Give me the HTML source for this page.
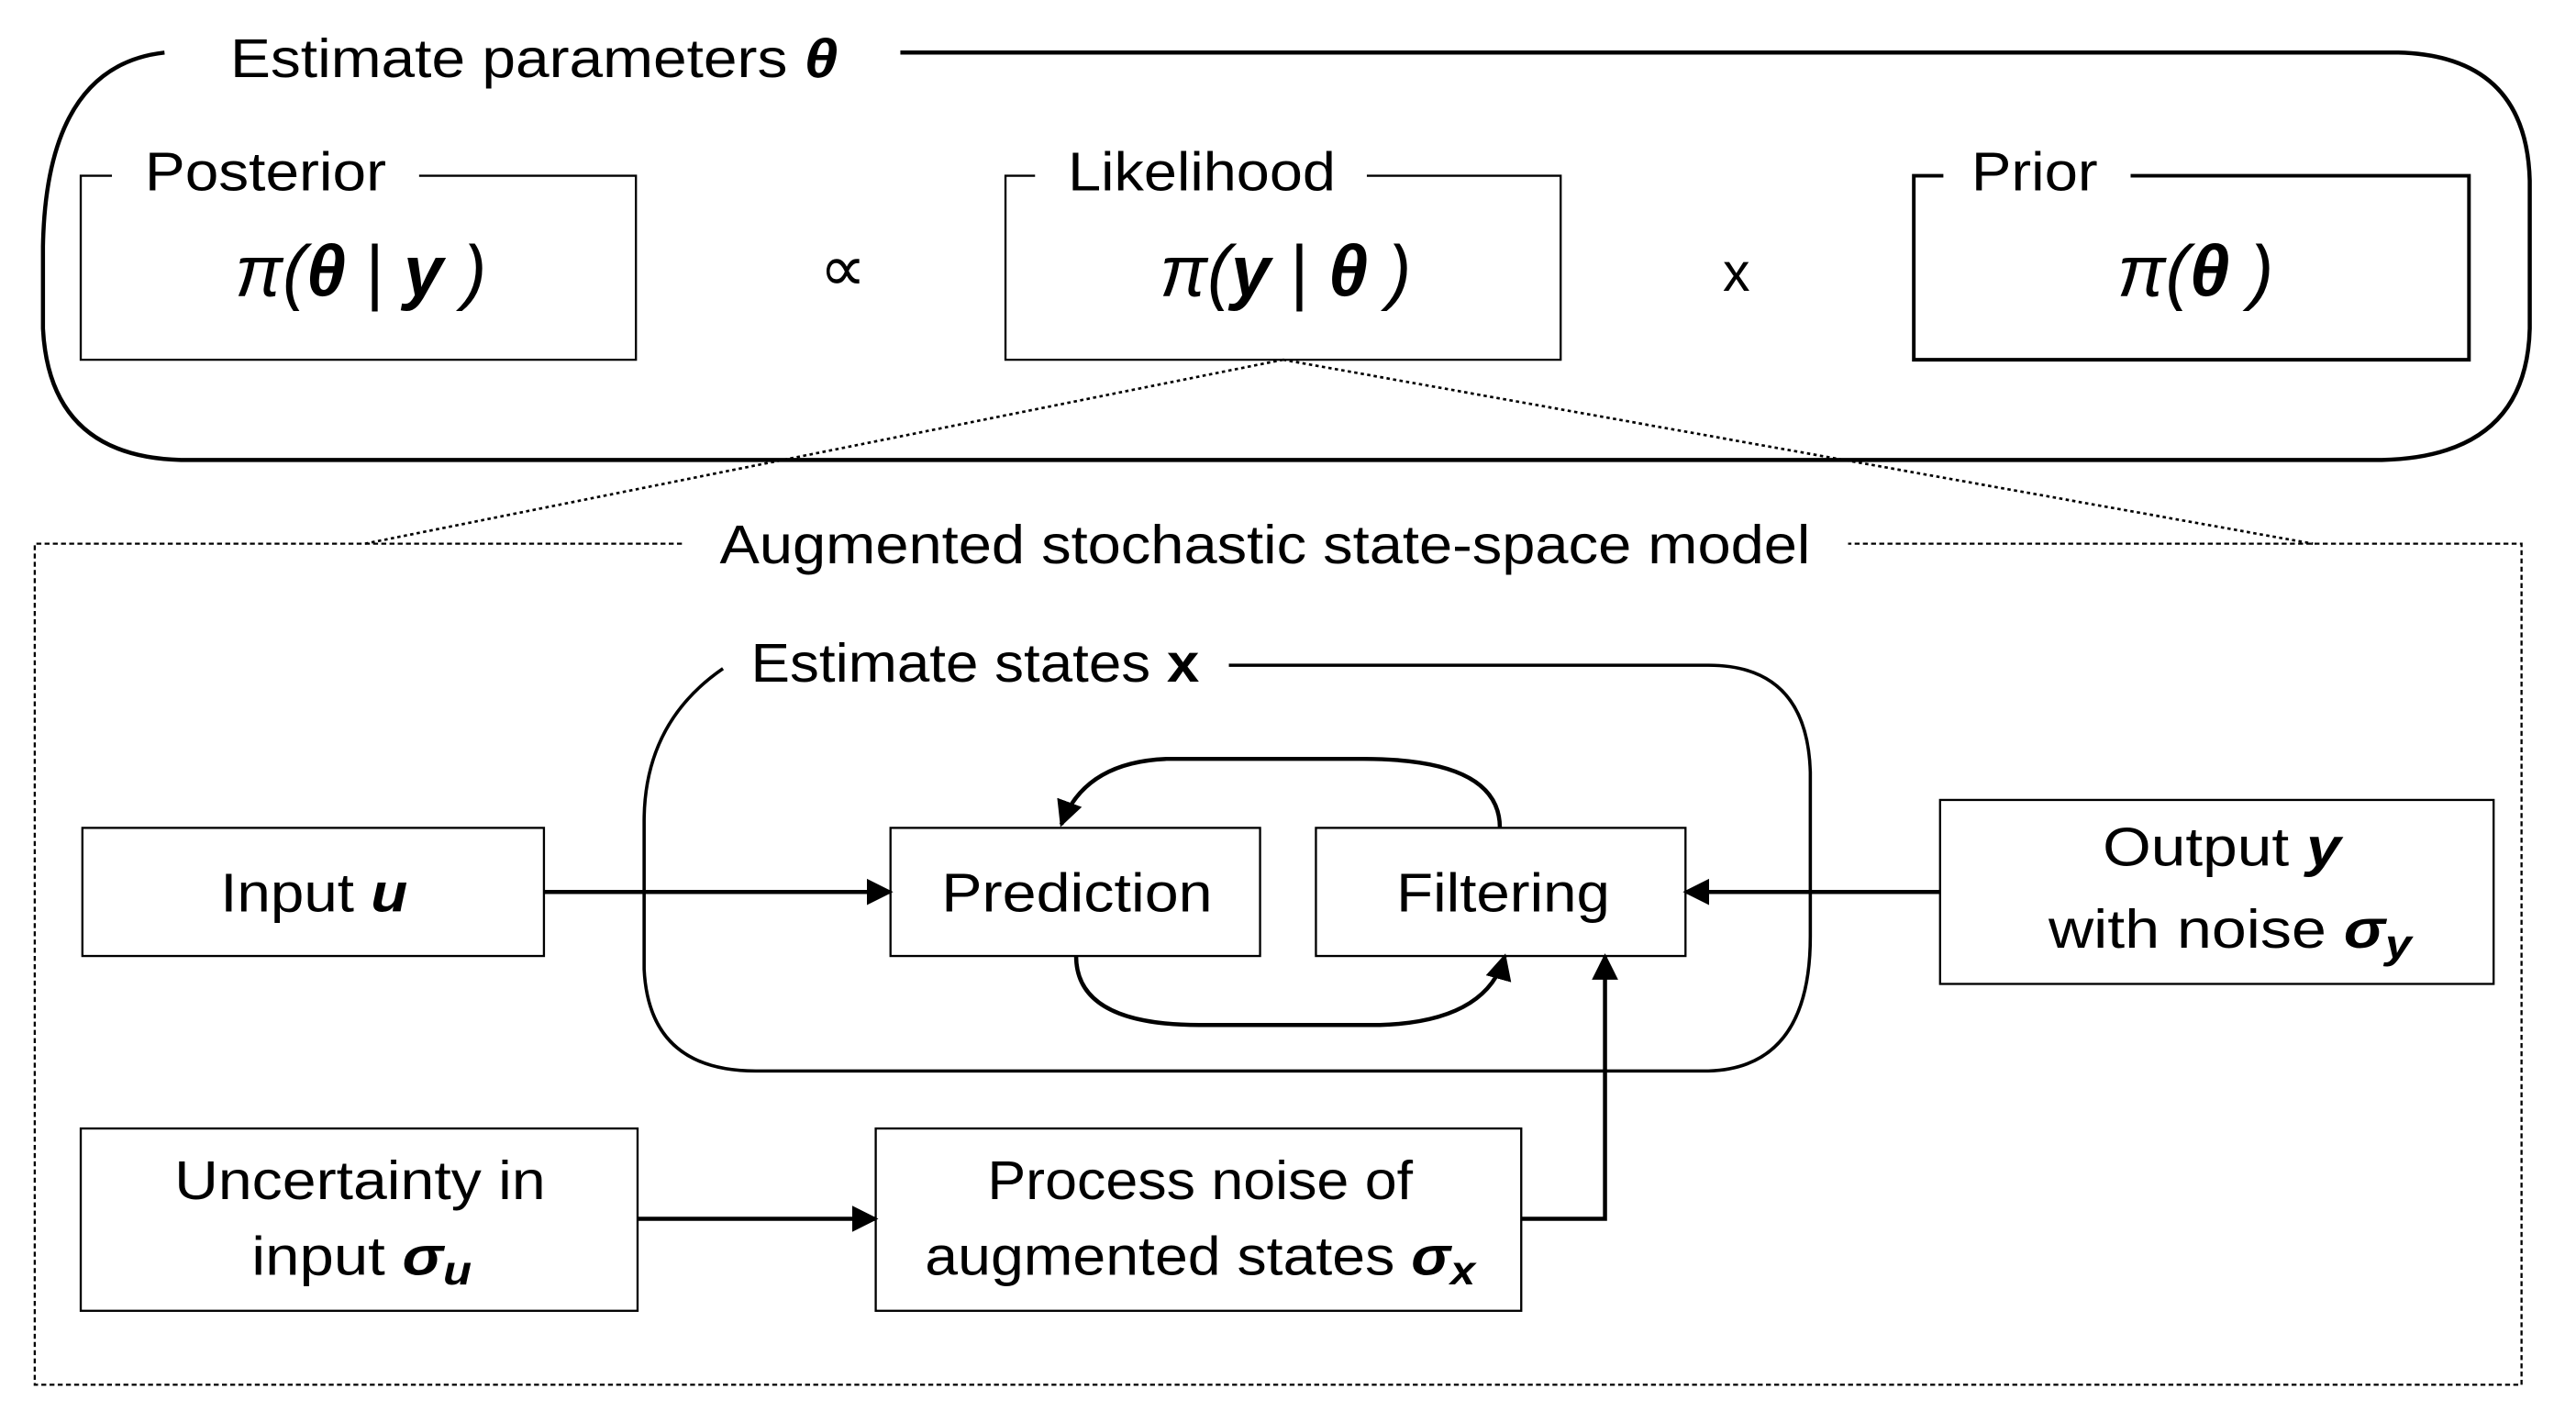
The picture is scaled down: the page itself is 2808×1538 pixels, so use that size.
<!DOCTYPE html>
<html><head><meta charset="utf-8"><style>html,body{margin:0;padding:0;background:#fff}svg{display:block}text{font-family:"Liberation Sans",sans-serif;fill:#000}</style></head>
<body>
<svg width="2808" height="1538" viewBox="0 0 1568 859" xmlns="http://www.w3.org/2000/svg">
<defs>
<marker id="ah" viewBox="0 0 10 10" refX="9" refY="5" markerWidth="16" markerHeight="18" orient="auto" markerUnits="userSpaceOnUse"><path d="M0,0 L10,5 L0,10 z" fill="#000"/></marker>
</defs>
<g fill="none" stroke="#000">
<path d="M100,32 Q28,40 26,150 L26,200 Q30,278 110,280 L1450,280 Q1538,278 1540,200 L1540,110 Q1538,34 1460,32 L548,32" stroke-width="2.5"/>
<path d="M68,107 L49,107 L49,219 L387,219 L387,107 L255,107" stroke-width="1.3"/>
<path d="M630,107 L612,107 L612,219 L950,219 L950,107 L832,107" stroke-width="1.3"/>
<path d="M1183,107 L1165,107 L1165,219 L1503,219 L1503,107 L1297,107" stroke-width="2.2"/>
<path d="M781,219 L222,331 M781,219 L1408,331" stroke-width="1.5" stroke-dasharray="2,2"/>
<path d="M415,331 L21,331 L21,843 L1535,843 L1535,331 L1125,331" stroke-width="1.3" stroke-dasharray="3,2"/>
<path d="M440,407 Q392,440 392,500 L392,590 Q395,652 460,652 L1040,652 Q1102,650 1102,570 L1102,470 Q1100,405 1040,405 L748,405" stroke-width="2"/>
<rect x="50" y="504" width="281" height="78" stroke-width="1.3"/>
<rect x="542" y="504" width="225" height="78" stroke-width="1.3"/>
<rect x="801" y="504" width="225" height="78" stroke-width="1.3"/>
<rect x="1181" y="487" width="337" height="112" stroke-width="1.3"/>
<rect x="49" y="687" width="339" height="111" stroke-width="1.3"/>
<rect x="533" y="687" width="393" height="111" stroke-width="1.3"/>
<path d="M331,543 L542,543" stroke-width="2.5" marker-end="url(#ah)"/>
<path d="M1181,543 L1026,543" stroke-width="2.5" marker-end="url(#ah)"/>
<path d="M388,742 L533,742" stroke-width="2.5" marker-end="url(#ah)"/>
<path d="M926,742 L977,742 L977,582" stroke-width="2.5" marker-end="url(#ah)"/>
<path d="M913,504 Q913,462 830,462 L710,462 Q660,464 646,502" stroke-width="2.5" marker-end="url(#ah)"/>
<path d="M655,582 Q655,624 730,624 L840,624 Q905,622 916,582" stroke-width="2.5" marker-end="url(#ah)"/>
</g>
<g font-size="33" lengthAdjust="spacingAndGlyphs">
<text x="140" y="47" textLength="370" lengthAdjust="spacingAndGlyphs">Estimate parameters <tspan font-weight="bold" font-style="italic">θ</tspan></text>
<text x="88" y="116" textLength="147" lengthAdjust="spacingAndGlyphs">Posterior</text>
<text x="650" y="116" textLength="163" lengthAdjust="spacingAndGlyphs">Likelihood</text>
<text x="1200" y="116" textLength="77" lengthAdjust="spacingAndGlyphs">Prior</text>
<text x="438" y="343" textLength="664" lengthAdjust="spacingAndGlyphs">Augmented stochastic state-space model</text>
<text x="457" y="415" textLength="273" lengthAdjust="spacingAndGlyphs">Estimate states <tspan font-weight="bold">x</tspan></text>
<text x="134" y="555" textLength="114" lengthAdjust="spacingAndGlyphs">Input <tspan font-weight="bold" font-style="italic">u</tspan></text>
<text x="573" y="555" textLength="165" lengthAdjust="spacingAndGlyphs">Prediction</text>
<text x="850" y="555" textLength="130" lengthAdjust="spacingAndGlyphs">Filtering</text>
<text x="1280" y="527" textLength="145" lengthAdjust="spacingAndGlyphs">Output <tspan font-weight="bold" font-style="italic">y</tspan></text>
<text x="1247" y="577" textLength="221" lengthAdjust="spacingAndGlyphs">with noise <tspan font-weight="bold" font-style="italic">σ</tspan><tspan font-weight="bold" font-style="italic" font-size="25" dy="6">y</tspan></text>
<text x="106" y="730" textLength="226" lengthAdjust="spacingAndGlyphs">Uncertainty in</text>
<text x="153" y="776" textLength="134" lengthAdjust="spacingAndGlyphs">input <tspan font-weight="bold" font-style="italic">σ</tspan><tspan font-weight="bold" font-style="italic" font-size="25" dy="6">u</tspan></text>
<text x="601" y="730" textLength="259" lengthAdjust="spacingAndGlyphs">Process noise of</text>
<text x="563" y="776" textLength="335" lengthAdjust="spacingAndGlyphs">augmented states <tspan font-weight="bold" font-style="italic">σ</tspan><tspan font-weight="bold" font-style="italic" font-size="25" dy="6">x</tspan></text>
</g>
<g font-size="44" font-style="italic">
<text x="143" y="180" textLength="153" lengthAdjust="spacingAndGlyphs">π(<tspan font-weight="bold">θ</tspan> <tspan font-style="normal" font-weight="normal">|</tspan> <tspan font-weight="bold">y</tspan> )</text>
<text x="706" y="180" textLength="153" lengthAdjust="spacingAndGlyphs">π(<tspan font-weight="bold">y</tspan> <tspan font-style="normal" font-weight="normal">|</tspan> <tspan font-weight="bold">θ</tspan> )</text>
<text x="1289" y="180" textLength="95" lengthAdjust="spacingAndGlyphs">π(<tspan font-weight="bold">θ</tspan> )</text>
</g>
<text x="513" y="177" font-size="40" text-anchor="middle">∝</text>
<text x="1057" y="177" font-size="33" text-anchor="middle">x</text>
</svg>
</body></html>
